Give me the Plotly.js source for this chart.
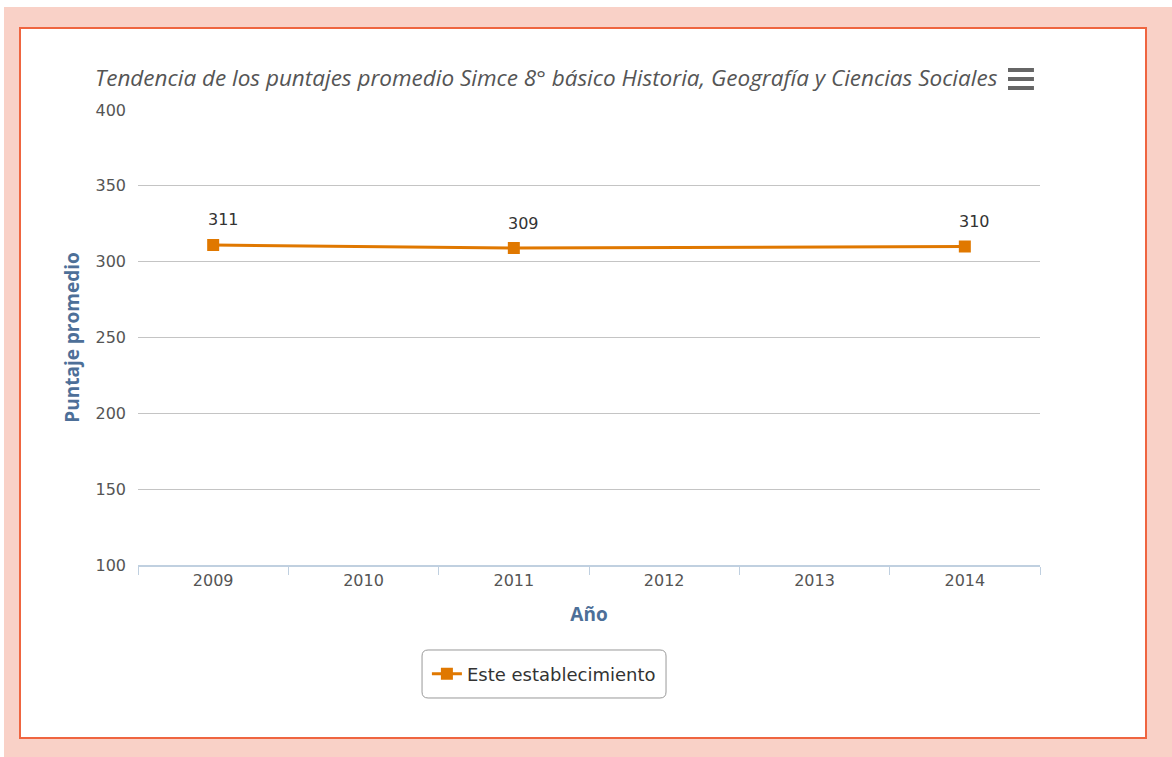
<!DOCTYPE html>
<html>
<head>
<meta charset="utf-8">
<script src="https://cdn.plot.ly/plotly-3.0.1.min.js"></script>
<style>
  html, body { margin: 0; padding: 0; background: #ffffff; width: 1172px; height: 757px; overflow: hidden; }
  #pink { position: absolute; left: 4px; top: 7px; width: 1168px; height: 750px; background: #f9d1c7; }
  #box { position: absolute; left: 19px; top: 27px; width: 1124px; height: 708px; background: #ffffff; border: 2px solid #ef6540; }
  #chart { position: absolute; left: 0; top: 0; width: 1172px; height: 757px; }
</style>
</head>
<body>
<div id="pink"></div>
<div id="box"></div>
<div id="chart"></div>
<script>
const years = ['2009', '2010', '2011', '2012', '2013', '2014'];
const scores = [311, null, 309, null, null, 310];
const yTicks = [100, 150, 200, 250, 300, 350, 400];
const seriesName = 'Este establecimiento';

const trace = {
  x: years,
  y: scores,
  type: 'scatter',
  mode: 'lines+markers',
  name: seriesName,
  connectgaps: true,
  line: { color: '#e07800', width: 3 },
  marker: { symbol: 'square', size: 12, color: '#e07800' },
  hoverinfo: 'x+y'
};

const labelAnnotations = [];
years.forEach(function (yr, i) {
  if (scores[i] !== null) {
    labelAnnotations.push({
      x: i, y: scores[i], xref: 'x', yref: 'y',
      text: String(scores[i]), showarrow: false,
      xshift: 10, yshift: 25,
      font: { family: 'DejaVu Sans, sans-serif', size: 16, color: '#333333' }
    });
  }
});

const iconColor = '#666666';
function bar(y0, y1) {
  return { type: 'rect', xref: 'paper', yref: 'paper', x0: 0.9645, x1: 0.9933, y0: y0, y1: y1,
           fillcolor: iconColor, line: { width: 0 } };
}
// rounded legend frame (paper coords)
const lx0 = 0.3149, lx1 = 0.5854, ly0 = -0.2923, ly1 = -0.1868, rx = 0.0067, ry = 0.0132;
const legendFrame = {
  type: 'path', xref: 'paper', yref: 'paper',
  path: 'M ' + (lx0 + rx) + ',' + ly1 + ' L ' + (lx1 - rx) + ',' + ly1 +
        ' Q ' + lx1 + ',' + ly1 + ' ' + lx1 + ',' + (ly1 - ry) +
        ' L ' + lx1 + ',' + (ly0 + ry) +
        ' Q ' + lx1 + ',' + ly0 + ' ' + (lx1 - rx) + ',' + ly0 +
        ' L ' + (lx0 + rx) + ',' + ly0 +
        ' Q ' + lx0 + ',' + ly0 + ' ' + lx0 + ',' + (ly0 + ry) +
        ' L ' + lx0 + ',' + (ly1 - ry) +
        ' Q ' + lx0 + ',' + ly1 + ' ' + (lx0 + rx) + ',' + ly1 + ' Z',
  fillcolor: '#ffffff',
  line: { color: '#999999', width: 1 }
};

const layout = {
  width: 1172,
  height: 757,
  paper_bgcolor: 'rgba(0,0,0,0)',
  plot_bgcolor: 'rgba(0,0,0,0)',
  margin: { l: 138, r: 132, t: 110, b: 192, pad: 0 },
  showlegend: true,
  font: { family: 'Open Sans, sans-serif', color: '#555555' },
  title: {
    text: 'Tendencia de los puntajes promedio Simce 8° básico Historia, Geografía y Ciencias Sociales',
    font: { family: 'Open Sans, sans-serif', size: 22.5, color: '#555555', style: 'italic' },
    x: 0.466, xref: 'container', xanchor: 'center',
    y: 0.897, yref: 'container', yanchor: 'middle'
  },
  xaxis: {
    type: 'category',
    range: [-0.5, 5.5],
    tickson: 'boundaries',
    ticks: 'outside',
    ticklen: 8,
    tickcolor: '#c0d0e0',
    showline: true,
    linecolor: '#c0d0e0',
    linewidth: 2,
    showgrid: false,
    zeroline: false,
    tickfont: { family: 'DejaVu Sans, sans-serif', size: 16, color: '#555555' },
    title: {
      text: 'Año',
      font: { family: 'Open Sans, sans-serif', size: 19, color: '#4d6f98', weight: 'bold' },
      standoff: 18
    }
  },
  yaxis: {
    range: [100, 400],
    tickvals: yTicks,
    showgrid: true,
    gridcolor: '#c4c4c4',
    gridwidth: 1,
    zeroline: false,
    showline: false,
    ticks: '',
    ticklabelstandoff: 11,
    tickfont: { family: 'DejaVu Sans, sans-serif', size: 16, color: '#555555' },
    title: {
      text: 'Puntaje promedio',
      font: { family: 'Open Sans, sans-serif', size: 19, color: '#4d6f98', weight: 'bold' },
      standoff: 10
    }
  },
  legend: {
    orientation: 'h',
    x: 0.450, xanchor: 'center',
    y: -0.2396, yanchor: 'middle',
    bgcolor: 'rgba(0,0,0,0)',
    borderwidth: 0,
    font: { family: 'DejaVu Sans, sans-serif', size: 18, color: '#333333' },
    itemwidth: 30
  },
  annotations: labelAnnotations,
  shapes: [
    bar(1.0835, 1.0923), bar(1.0637, 1.0725), bar(1.0440, 1.0527),
    legendFrame
  ]
};

Plotly.newPlot('chart', [trace], layout, { displayModeBar: false, responsive: false });
</script>
</body>
</html>
